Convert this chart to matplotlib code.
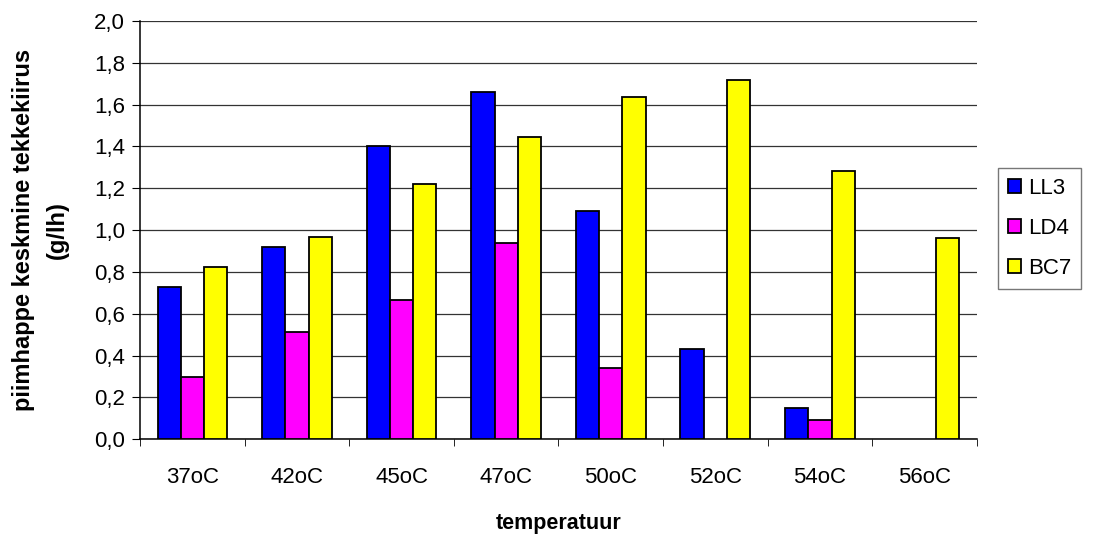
#!/usr/bin/env python3
"""
Lactic acid mean formation rate per strain at different temperatures.
"""
import numpy as np
import matplotlib
matplotlib.use('Agg')
import matplotlib.pyplot as plt
from matplotlib.ticker import FuncFormatter, MultipleLocator

temperatures = ['37oC', '42oC', '45oC', '47oC', '50oC', '52oC', '54oC', '56oC']
# nan = no measurement at that temperature
ll3 = [0.73, 0.92, 1.40, 1.66, 1.09, 0.43, 0.15, np.nan]
ld4 = [0.30, 0.515, 0.665, 0.94, 0.34, np.nan, 0.09, np.nan]
bc7 = [0.825, 0.965, 1.22, 1.445, 1.635, 1.72, 1.285, 0.96]

series = [('LL3', ll3, '#0000ff'), ('LD4', ld4, '#ff00ff'), ('BC7', bc7, '#ffff00')]

plt.rcParams['font.family'] = ['Liberation Sans', 'DejaVu Sans']

fig = plt.figure(figsize=(10.95, 5.38), dpi=100)
ax = fig.add_axes([0.128, 0.1835, 0.764, 0.7775])

# Excel-like layout: 3 bars per group, gap of 1.5 bar widths
x = np.arange(len(temperatures))
width = 1 / 4.5
for i, (name, vals, color) in enumerate(series):
    ax.bar(x + (i - 1) * width, vals, width, color=color, edgecolor='black',
           linewidth=1.3, label=name, zorder=3)

ax.set_xlim(-0.5, len(temperatures) - 0.5)
ax.set_ylim(0, 2.0)
ax.yaxis.set_major_locator(MultipleLocator(0.2))
ax.yaxis.set_major_formatter(FuncFormatter(lambda v, _: f'{v:.1f}'.replace('.', ',')))
ax.grid(axis='y', color='#333333', linewidth=0.9, zorder=0)

# category ticks sit between groups
ax.set_xticks(x)
ax.set_xticklabels(temperatures)
ax.set_xticks(np.arange(len(temperatures) + 1) - 0.5, minor=True)
ax.tick_params(axis='x', which='major', length=0, pad=20, labelsize=16)
ax.tick_params(axis='x', which='minor', length=5, direction='out', color='black')
ax.tick_params(axis='y', length=6, direction='out', labelsize=16, pad=5)

for side in ('top', 'right'):
    ax.spines[side].set_visible(False)
for side in ('left', 'bottom'):
    ax.spines[side].set_linewidth(1.1)

ax.set_xlabel('temperatuur', fontsize=15.5, fontweight='bold', labelpad=18)
ax.set_ylabel('piimhappe keskmine tekkekiirus\n(g/lh)', fontsize=17,
              fontweight='bold', labelpad=18, linespacing=1.6)

leg = ax.legend(loc='upper left', bbox_to_anchor=(0.9114, 0.6877),
                bbox_transform=fig.transFigure, fontsize=16,
                frameon=True, fancybox=False, edgecolor='#555555',
                handlelength=0.6, handleheight=0.6, handletextpad=0.3,
                labelspacing=0.85, borderpad=0.45, borderaxespad=0)
leg.get_frame().set_linewidth(1.0)

fig.savefig('out.png', dpi=100)
